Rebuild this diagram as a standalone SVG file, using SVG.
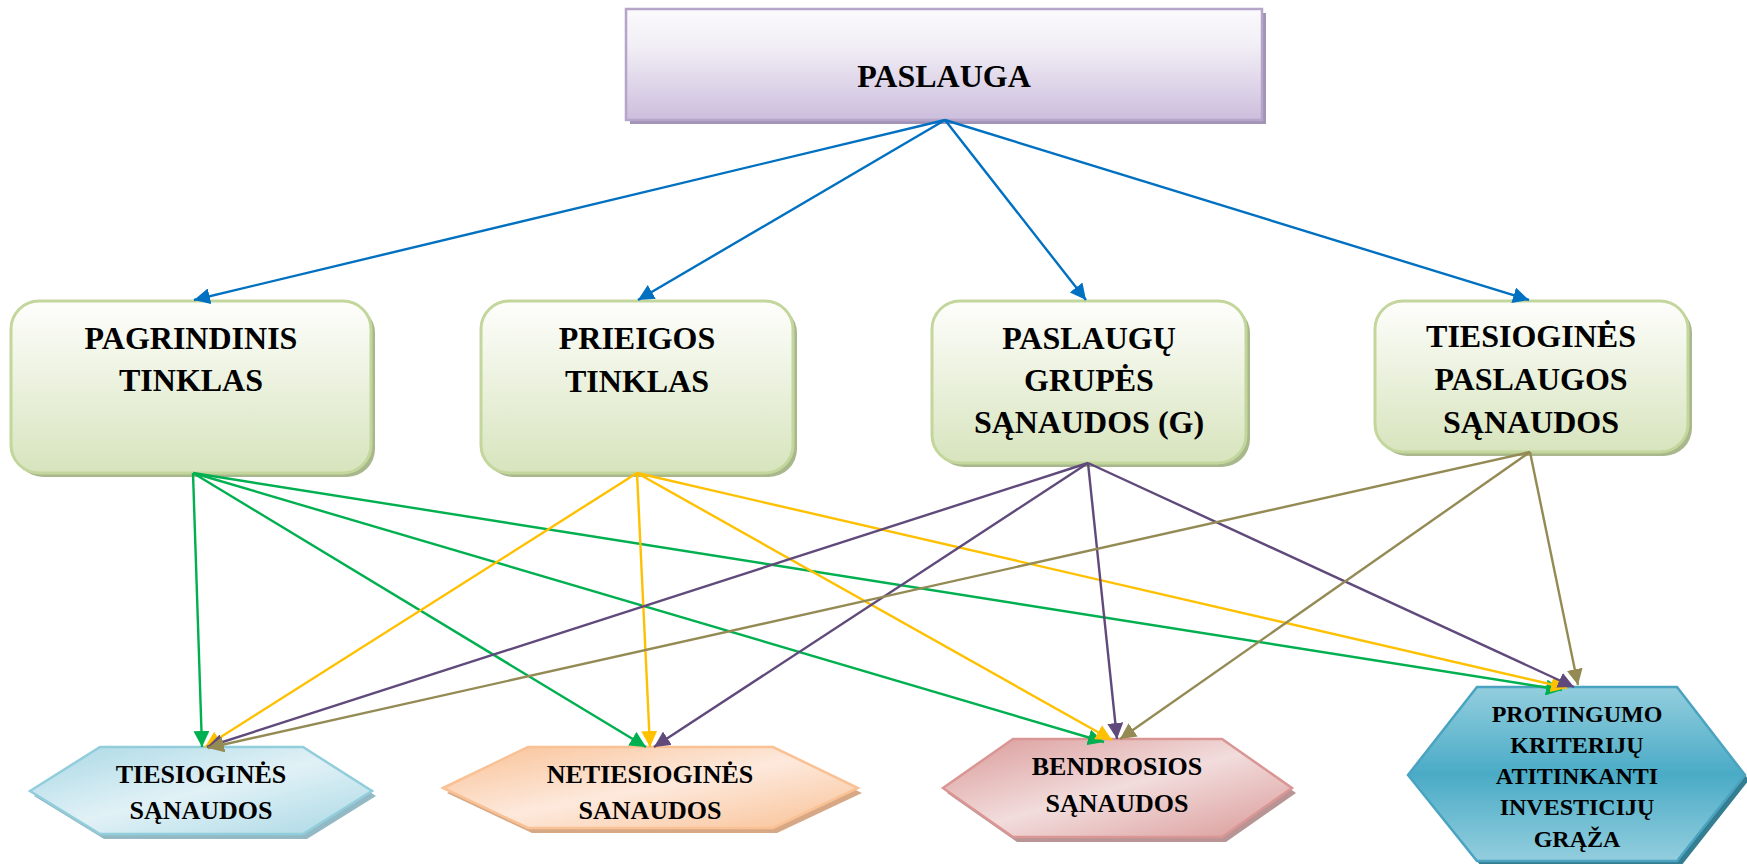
<svg xmlns="http://www.w3.org/2000/svg" width="1747" height="864" viewBox="0 0 1747 864">
<style>
.t{font-family:"Liberation Serif","Times New Roman",serif;font-weight:bold;fill:#000;text-anchor:middle}
.t32{font-size:32px}
.t26{font-size:26px}
.t24{font-size:24px}
.c{fill:none;stroke-width:2.4}
.blue{stroke:#0070c0;marker-end:url(#mBlue)}
.green{stroke:#00b050;marker-end:url(#mGreen)}
.yellow{stroke:#ffc000;marker-end:url(#mYellow)}
.purple{stroke:#604a7b;marker-end:url(#mPurple)}
.olive{stroke:#948a54;marker-end:url(#mOlive)}
.gbox{fill:url(#gGreen);stroke:#c3d69b;stroke-width:3}
.gsh{fill:#a9b78c}
</style>
<defs>
<linearGradient id="gTop" x1="0" y1="0" x2="0" y2="1">
<stop offset="0" stop-color="#fbfafc"/><stop offset="0.35" stop-color="#f1edf5"/><stop offset="1" stop-color="#ccbedd"/>
</linearGradient>
<linearGradient id="gGreen" x1="0" y1="0" x2="0" y2="1">
<stop offset="0" stop-color="#fefefc"/><stop offset="1" stop-color="#d7e4bd"/>
</linearGradient>
<linearGradient id="gBlueL" x1="0" y1="0" x2="1" y2="1">
<stop offset="0" stop-color="#a9d8e5"/><stop offset="0.5" stop-color="#e1f1f6"/><stop offset="1" stop-color="#a9d8e5"/>
</linearGradient>
<linearGradient id="gPeach" x1="0" y1="0" x2="1" y2="1">
<stop offset="0" stop-color="#f9c195"/><stop offset="0.5" stop-color="#fde9dc"/><stop offset="1" stop-color="#f9c195"/>
</linearGradient>
<linearGradient id="gPink" x1="0" y1="0" x2="1" y2="1">
<stop offset="0" stop-color="#d99a98"/><stop offset="0.5" stop-color="#f2dcdc"/><stop offset="1" stop-color="#d99a98"/>
</linearGradient>
<linearGradient id="gTeal" x1="0" y1="0" x2="0" y2="1">
<stop offset="0" stop-color="#93cede"/><stop offset="0.5" stop-color="#4aabc6"/><stop offset="1" stop-color="#93cede"/>
</linearGradient>
<marker id="mBlue" markerUnits="userSpaceOnUse" markerWidth="16" markerHeight="16" refX="16" refY="8" orient="auto"><path d="M0,0 L16,8 L0,16 z" fill="#0070c0"/></marker>
<marker id="mGreen" markerUnits="userSpaceOnUse" markerWidth="16" markerHeight="16" refX="16" refY="8" orient="auto"><path d="M0,0 L16,8 L0,16 z" fill="#00b050"/></marker>
<marker id="mYellow" markerUnits="userSpaceOnUse" markerWidth="16" markerHeight="16" refX="16" refY="8" orient="auto"><path d="M0,0 L16,8 L0,16 z" fill="#ffc000"/></marker>
<marker id="mPurple" markerUnits="userSpaceOnUse" markerWidth="16" markerHeight="16" refX="16" refY="8" orient="auto"><path d="M0,0 L16,8 L0,16 z" fill="#604a7b"/></marker>
<marker id="mOlive" markerUnits="userSpaceOnUse" markerWidth="16" markerHeight="16" refX="16" refY="8" orient="auto"><path d="M0,0 L16,8 L0,16 z" fill="#948a54"/></marker>
</defs>

<g id="node-paslauga">
<rect x="630" y="13" width="636" height="111" fill="#a393b7"/>
<rect x="626" y="9" width="636" height="111" fill="url(#gTop)" stroke="#b5a5c9" stroke-width="2.5"/>
<text class="t t32" x="944" y="87">PASLAUGA</text>
</g>

<g id="node-pagrindinis">
<rect class="gsh" x="15" y="305" width="360" height="172" rx="28"/>
<rect class="gbox" x="11" y="301" width="360" height="172" rx="28"/>
<text class="t t32" x="191" y="349">PAGRINDINIS</text>
<text class="t t32" x="191" y="391">TINKLAS</text>
</g>

<g id="node-prieigos">
<rect class="gsh" x="485" y="305" width="312" height="172" rx="28"/>
<rect class="gbox" x="481" y="301" width="312" height="172" rx="28"/>
<text class="t t32" x="637" y="349">PRIEIGOS</text>
<text class="t t32" x="637" y="392">TINKLAS</text>
</g>

<g id="node-grupes">
<rect class="gsh" x="936" y="305" width="314" height="162" rx="28"/>
<rect class="gbox" x="932" y="301" width="314" height="162" rx="28"/>
<text class="t t32" x="1089" y="349">PASLAUGŲ</text>
<text class="t t32" x="1089" y="391">GRUPĖS</text>
<text class="t t32" x="1089" y="433">SĄNAUDOS (G)</text>
</g>

<g id="node-tiesiogines-paslaugos">
<rect class="gsh" x="1379" y="305" width="313" height="151" rx="28"/>
<rect class="gbox" x="1375" y="301" width="313" height="151" rx="28"/>
<text class="t t32" x="1531" y="347">TIESIOGINĖS</text>
<text class="t t32" x="1531" y="390">PASLAUGOS</text>
<text class="t t32" x="1531" y="433">SĄNAUDOS</text>
</g>

<g id="node-tiesiogines-sanaudos">
<polygon points="34,796 104,752 307,752 376,796 307,839 104,839" fill="#93b9c4"/>
<polygon points="30,791 100,747 303,747 372,791 303,834 100,834" fill="url(#gBlueL)" stroke="#92cddc" stroke-width="2.5"/>
<text class="t t26" x="201" y="783">TIESIOGINĖS</text>
<text class="t t26" x="201" y="819">SĄNAUDOS</text>
</g>

<g id="node-netiesiogines">
<polygon points="447,793 532,752 777,752 862,793 777,833 532,833" fill="#d6a886"/>
<polygon points="443,788 528,747 773,747 858,788 773,828 528,828" fill="url(#gPeach)" stroke="#f9c194" stroke-width="2.5"/>
<text class="t t26" x="650" y="783">NETIESIOGINĖS</text>
<text class="t t26" x="650" y="819">SANAUDOS</text>
</g>

<g id="node-bendrosios">
<polygon points="947,793 1017,744 1226,744 1296,793 1226,842 1017,842" fill="#b89594"/>
<polygon points="943,788 1013,739 1222,739 1292,788 1222,837 1013,837" fill="url(#gPink)" stroke="#d99694" stroke-width="2.5"/>
<text class="t t26" x="1117" y="775">BENDROSIOS</text>
<text class="t t26" x="1117" y="812">SĄNAUDOS</text>
</g>

<g id="node-protingumo">
<polygon points="1412,780 1481,692 1681,692 1749,780 1681,866 1481,866" fill="#357d91"/>
<polygon points="1408,775 1477,687 1677,687 1745,775 1677,861 1477,861" fill="url(#gTeal)" stroke="#4aa3c0" stroke-width="2.5"/>
<text class="t t24" x="1577" y="722">PROTINGUMO</text>
<text class="t t24" x="1577" y="753">KRITERIJŲ</text>
<text class="t t24" x="1577" y="784">ATITINKANTI</text>
<text class="t t24" x="1577" y="815">INVESTICIJŲ</text>
<text class="t t24" x="1577" y="847">GRĄŽA</text>
</g>

<g id="connectors">
<line class="c blue" x1="945" y1="120" x2="194" y2="300"/>
<line class="c blue" x1="945" y1="120" x2="638" y2="300"/>
<line class="c blue" x1="945" y1="120" x2="1086" y2="300"/>
<line class="c blue" x1="945" y1="120" x2="1529" y2="300"/>

<line class="c green" x1="193" y1="473" x2="202" y2="747"/>
<line class="c green" x1="193" y1="473" x2="646" y2="747"/>
<line class="c green" x1="193" y1="473" x2="1104" y2="742"/>
<line class="c green" x1="193" y1="473" x2="1562" y2="690"/>

<line class="c yellow" x1="637" y1="473" x2="205" y2="747"/>
<line class="c yellow" x1="637" y1="473" x2="650" y2="747"/>
<line class="c yellow" x1="637" y1="473" x2="1112" y2="740"/>
<line class="c yellow" x1="637" y1="473" x2="1567" y2="688"/>

<line class="c purple" x1="1088" y1="463" x2="207" y2="747"/>
<line class="c purple" x1="1088" y1="463" x2="654" y2="747"/>
<line class="c purple" x1="1088" y1="463" x2="1117" y2="739"/>
<line class="c purple" x1="1088" y1="463" x2="1574" y2="687"/>

<line class="c olive" x1="1530" y1="452" x2="208" y2="748"/>
<line class="c olive" x1="1530" y1="452" x2="1120" y2="739"/>
<line class="c olive" x1="1530" y1="452" x2="1578" y2="685"/>
</g>
</svg>
